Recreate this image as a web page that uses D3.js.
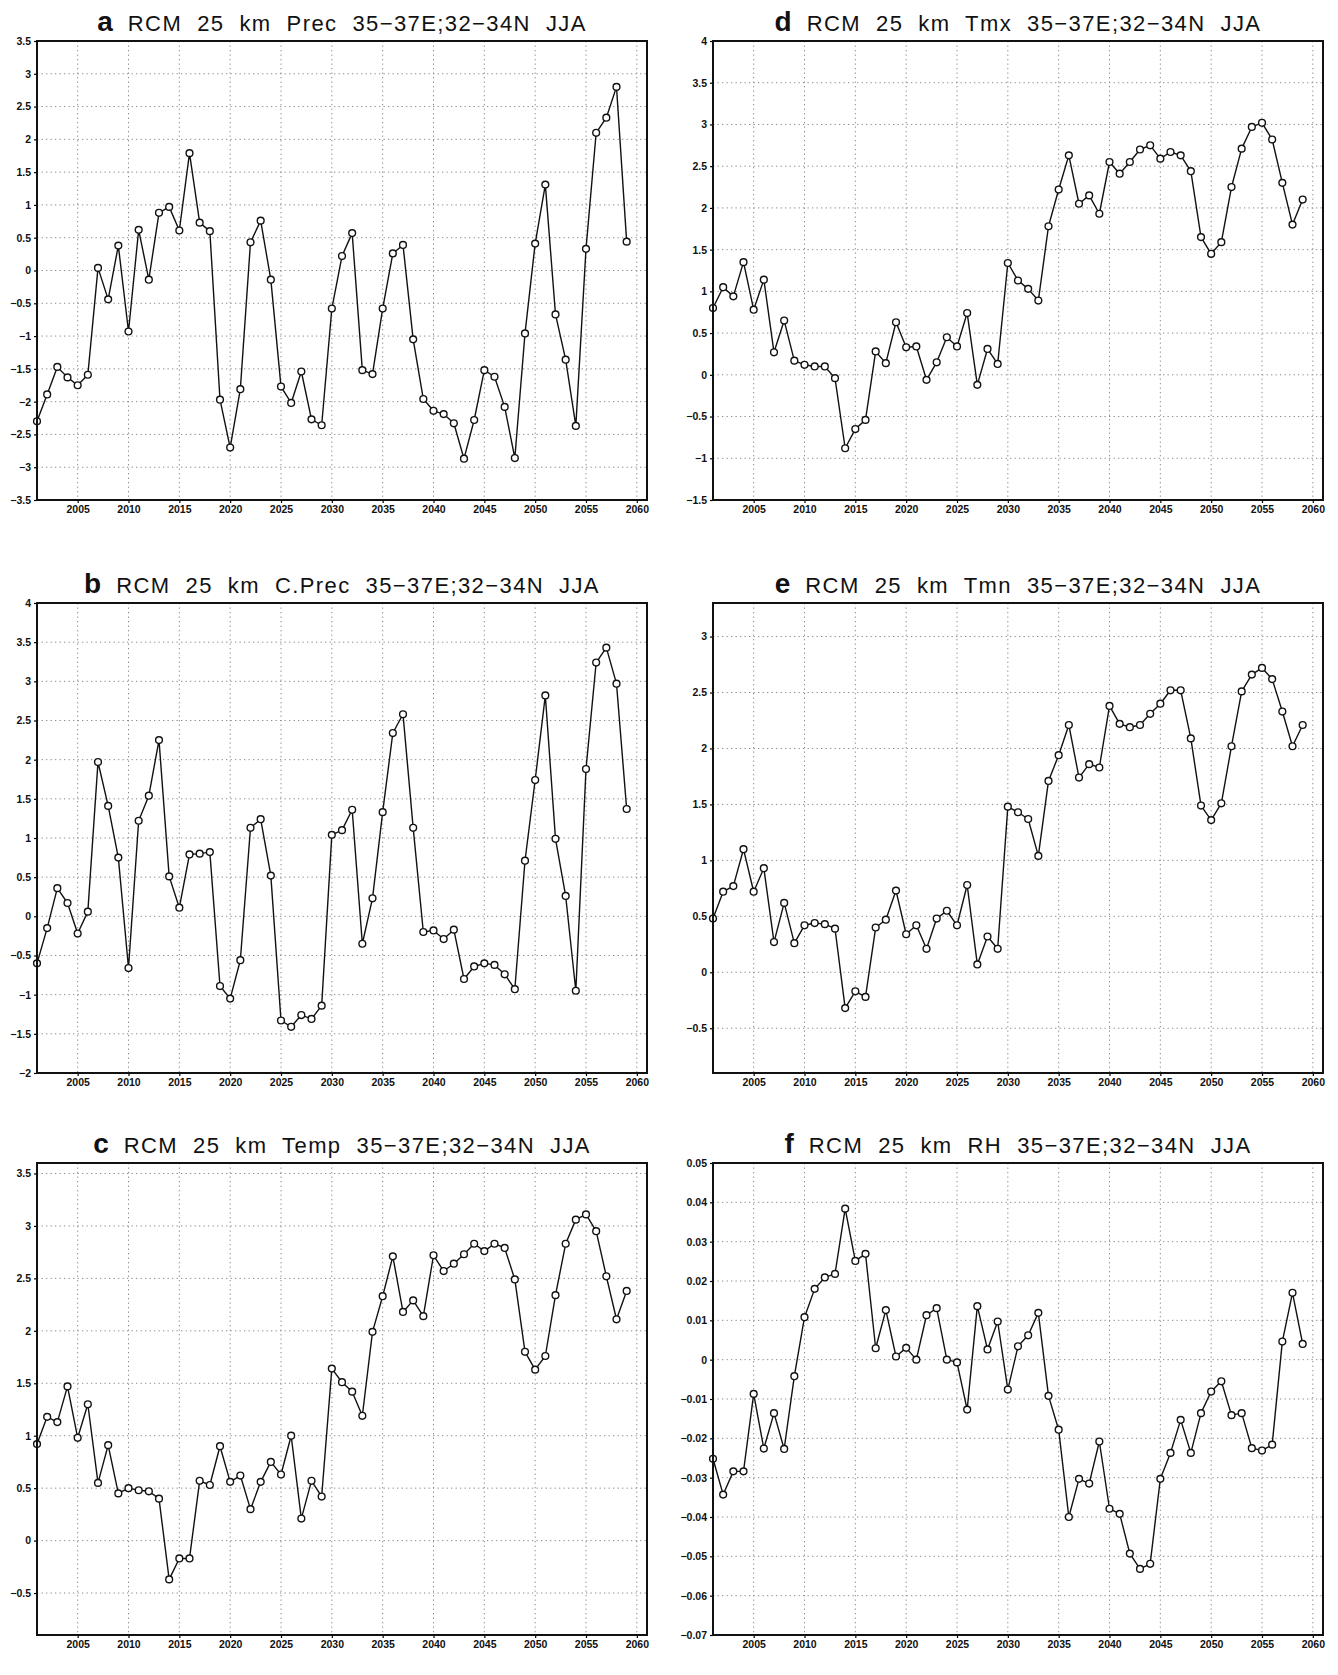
<!DOCTYPE html>
<html><head><meta charset="utf-8">
<script src="https://cdn.jsdelivr.net/npm/d3@7"></script>
<style>
body{margin:0;background:#fff}
svg{display:block}
.tick text{font-family:"Liberation Sans",Arial,sans-serif;font-weight:bold;font-size:10.5px;fill:#111}
</style>
</head><body>
<svg id="chart" width="1338" height="1675"></svg>
<script>
// ---------- data ----------
const years = [2001,2002,2003,2004,2005,2006,2007,2008,2009,2010,2011,2012,2013,2014,2015,2016,2017,2018,2019,2020,
  2021,2022,2023,2024,2025,2026,2027,2028,2029,2030,2031,2032,2033,2034,2035,2036,2037,2038,2039,2040,
  2041,2042,2043,2044,2045,2046,2047,2048,2049,2050,2051,2052,2053,2054,2055,2056,2057,2058,2059];

const xTicks = [2005,2010,2015,2020,2025,2030,2035,2040,2045,2050,2055,2060];

const precValues = [-2.30,-1.89,-1.47,-1.63,-1.75,-1.59,0.04,-0.44,0.38,-0.93,0.62,-0.14,0.88,0.97,0.61,1.79,0.73,0.60,-1.97,-2.70,
  -1.81,0.43,0.76,-0.14,-1.77,-2.02,-1.54,-2.27,-2.36,-0.58,0.22,0.57,-1.52,-1.58,-0.58,0.26,0.39,-1.05,-1.96,-2.14,
  -2.19,-2.33,-2.87,-2.28,-1.52,-1.62,-2.08,-2.86,-0.96,0.41,1.31,-0.67,-1.36,-2.37,0.33,2.10,2.33,2.80,0.44];

const cPrecValues = [-0.60,-0.15,0.36,0.17,-0.22,0.06,1.97,1.41,0.75,-0.66,1.22,1.54,2.25,0.51,0.11,0.79,0.80,0.82,-0.89,-1.05,
  -0.56,1.13,1.24,0.52,-1.33,-1.41,-1.26,-1.31,-1.14,1.04,1.10,1.36,-0.35,0.23,1.33,2.34,2.58,1.13,-0.20,-0.18,
  -0.29,-0.17,-0.80,-0.64,-0.60,-0.62,-0.74,-0.93,0.71,1.74,2.82,0.99,0.26,-0.95,1.88,3.24,3.43,2.97,1.37];

const tempValues = [0.92,1.18,1.13,1.47,0.98,1.30,0.55,0.91,0.45,0.50,0.48,0.47,0.40,-0.37,-0.17,-0.17,0.57,0.53,0.90,0.56,
  0.62,0.30,0.56,0.75,0.63,1.00,0.21,0.57,0.42,1.64,1.51,1.42,1.19,1.99,2.33,2.71,2.18,2.29,2.14,2.72,
  2.57,2.64,2.73,2.83,2.76,2.83,2.79,2.49,1.80,1.63,1.76,2.34,2.83,3.06,3.11,2.95,2.52,2.11,2.38];

const tmxValues = [0.80,1.05,0.94,1.35,0.78,1.14,0.27,0.65,0.17,0.12,0.10,0.10,-0.04,-0.88,-0.65,-0.54,0.28,0.14,0.63,0.33,
  0.34,-0.06,0.15,0.45,0.34,0.74,-0.12,0.31,0.13,1.34,1.13,1.03,0.89,1.78,2.22,2.63,2.05,2.15,1.93,2.55,
  2.41,2.55,2.70,2.75,2.59,2.67,2.63,2.44,1.65,1.45,1.59,2.25,2.71,2.97,3.02,2.82,2.30,1.80,2.10];

const tmnValues = [0.48,0.72,0.77,1.10,0.72,0.93,0.27,0.62,0.26,0.42,0.44,0.43,0.39,-0.32,-0.17,-0.22,0.40,0.47,0.73,0.34,
  0.42,0.21,0.48,0.55,0.42,0.78,0.07,0.32,0.21,1.48,1.43,1.37,1.04,1.71,1.94,2.21,1.74,1.86,1.83,2.38,
  2.22,2.19,2.21,2.31,2.40,2.52,2.52,2.09,1.49,1.36,1.51,2.02,2.51,2.66,2.72,2.62,2.33,2.02,2.21];

const rhValues = [-0.0252,-0.0343,-0.0284,-0.0284,-0.0087,-0.0226,-0.0136,-0.0227,-0.0042,0.0108,0.0180,0.0209,0.0218,0.0384,0.0251,0.0269,0.0029,0.0126,0.0008,0.0030,
  0.0000,0.0113,0.0131,0.0000,-0.0007,-0.0127,0.0136,0.0026,0.0097,-0.0076,0.0034,0.0062,0.0119,-0.0092,-0.0178,-0.0400,-0.0303,-0.0315,-0.0208,-0.0379,
  -0.0392,-0.0493,-0.0532,-0.0519,-0.0303,-0.0237,-0.0153,-0.0237,-0.0136,-0.0081,-0.0055,-0.0141,-0.0136,-0.0225,-0.0231,-0.0216,0.0046,0.0170,0.0040];

const precTicks  = [-3.5,-3,-2.5,-2,-1.5,-1,-0.5,0,0.5,1,1.5,2,2.5,3,3.5];
const cPrecTicks = [-2,-1.5,-1,-0.5,0,0.5,1,1.5,2,2.5,3,3.5,4];
const tempTicks  = [-0.5,0,0.5,1,1.5,2,2.5,3,3.5];
const tmxTicks   = [-1.5,-1,-0.5,0,0.5,1,1.5,2,2.5,3,3.5,4];
const tmnTicks   = [-0.5,0,0.5,1,1.5,2,2.5,3];
const rhTicks    = [-0.07,-0.06,-0.05,-0.04,-0.03,-0.02,-0.01,0,0.01,0.02,0.03,0.04,0.05];

const letters = ["a","b","c","d","e","f"];
const varNames = ["Prec","C.Prec","Temp","Tmx","Tmn","RH"];
const titleRest = "35\u221237E;32\u221234N  JJA";

// ---------- layout ----------
const cols = [{x0:37,x1:647},{x0:713,x1:1323}];
const rows = [{y0:41,y1:500,ty:31},{y0:603,y1:1073,ty:593},{y0:1163,y1:1635,ty:1153}];

const panels = [
  {col:0,row:0,values:precValues, ticks:precTicks, domain:[-3.5,3.5], fmt:d3.format("")},
  {col:0,row:1,values:cPrecValues,ticks:cPrecTicks,domain:[-2,4],     fmt:d3.format("")},
  {col:0,row:2,values:tempValues, ticks:tempTicks, domain:[-0.9,3.6], fmt:d3.format("")},
  {col:1,row:0,values:tmxValues,  ticks:tmxTicks,  domain:[-1.5,4],   fmt:d3.format("")},
  {col:1,row:1,values:tmnValues,  ticks:tmnTicks,  domain:[-0.9,3.3], fmt:d3.format("")},
  {col:1,row:2,values:rhValues,   ticks:rhTicks,   domain:[-0.07,0.05],fmt:v=> v===0?"0":d3.format(".2f")(v).replace("-","\u2212")}
];

const svg = d3.select("#chart");

panels.forEach((p,i)=>{
  const c = cols[p.col], r = rows[p.row];
  const x = d3.scaleLinear().domain([2001,2061]).range([c.x0,c.x1]);
  const y = d3.scaleLinear().domain(p.domain).range([r.y1,r.y0]);
  const g = svg.append("g");

  // grid
  g.append("g").selectAll("line").data(p.ticks.filter(t=>y(t)>r.y0+1 && y(t)<r.y1-1)).join("line")
    .attr("x1",c.x0).attr("x2",c.x1).attr("y1",d=>y(d)).attr("y2",d=>y(d))
    .attr("stroke","#8a8a8a").attr("stroke-width",1).attr("stroke-dasharray","1.3,3.2");
  g.append("g").selectAll("line").data(xTicks).join("line")
    .attr("x1",d=>x(d)).attr("x2",d=>x(d)).attr("y1",r.y0).attr("y2",r.y1)
    .attr("stroke","#8a8a8a").attr("stroke-width",1).attr("stroke-dasharray","1.3,3.2");

  // axes
  const ya = g.append("g").attr("transform",`translate(${c.x0},0)`)
    .call(d3.axisLeft(y).tickValues(p.ticks).tickFormat(p.fmt).tickSize(3).tickPadding(3));
  ya.select(".domain").remove();
  ya.selectAll(".tick line").attr("stroke","#000").attr("stroke-width",1.2);

  const xa = g.append("g").attr("transform",`translate(0,${r.y1})`)
    .call(d3.axisBottom(x).tickValues(xTicks).tickFormat(d3.format("d")).tickSize(3).tickPadding(3));
  xa.select(".domain").remove();
  xa.selectAll(".tick line").attr("stroke","#000").attr("stroke-width",1.2);

  // line
  const line = d3.line().x((d,k)=>x(years[k])).y(d=>y(d));
  g.append("path").datum(p.values).attr("d",line)
    .attr("fill","none").attr("stroke","#111").attr("stroke-width",1.4).attr("stroke-linejoin","round");

  g.append("g").selectAll("circle").data(p.values).join("circle")
    .attr("cx",(d,k)=>x(years[k])).attr("cy",d=>y(d)).attr("r",3.4)
    .attr("fill","#fff").attr("stroke","#111").attr("stroke-width",1.4);

  // frame
  g.append("rect").attr("x",c.x0).attr("y",r.y0).attr("width",c.x1-c.x0).attr("height",r.y1-r.y0)
    .attr("fill","none").attr("stroke","#111").attr("stroke-width",2);

  // title
  const t = g.append("text").attr("x",(c.x0+c.x1)/2).attr("y",r.ty).attr("text-anchor","middle")
    .attr("font-family","'Liberation Sans',Arial,sans-serif").attr("fill","#111");
  t.append("tspan").text(letters[i]).attr("font-weight","bold").attr("font-size",28);
  t.append("tspan").text("  RCM  25  km  " + varNames[i] + "  " + titleRest)
    .attr("font-size",22).attr("letter-spacing",1.4).style("white-space","pre");
});
</script>
</body></html>
